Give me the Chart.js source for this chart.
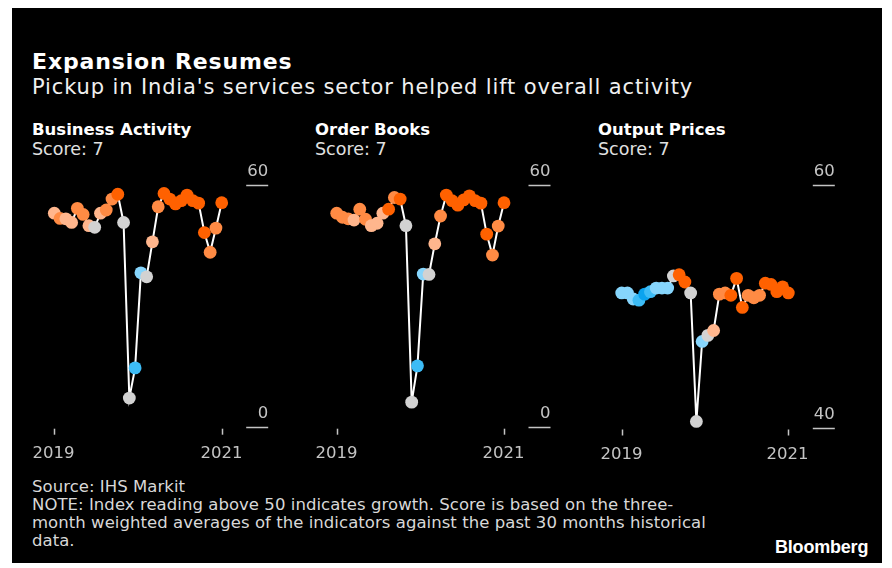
<!DOCTYPE html>
<html>
<head>
<meta charset="utf-8">
<script src="https://cdn.jsdelivr.net/npm/chart.js@4.4.1/dist/chart.umd.min.js"></script>
<style>
  html, body { margin: 0; padding: 0; background: #fff; width: 892px; height: 568px; overflow: hidden; }
  #frame { position: absolute; left: 12px; top: 8px; width: 870px; height: 555px; background: #000; }
  .t { position: absolute; font-family: "DejaVu Sans"; white-space: nowrap; line-height: 1; }
  canvas { position: absolute; }
</style>
</head>
<body>
<div id="frame"></div>

<div class="t" style="left:32px; top:51px; font-size:22px; font-weight:bold; color:#fff; letter-spacing:0.85px;">Expansion Resumes</div>
<div class="t" style="left:32px; top:77px; font-size:21px; color:#f0f0f0; letter-spacing:0.87px;">Pickup in India's services sector helped lift overall activity</div>

<div class="t" style="left:32px; top:122px; font-size:16.5px; font-weight:bold; color:#fff;">Business Activity</div>
<div class="t" style="left:32px; top:141px; font-size:17.5px; color:#e0e0e0;">Score: 7</div>
<div class="t" style="left:315px; top:122px; font-size:16.5px; font-weight:bold; color:#fff;">Order Books</div>
<div class="t" style="left:315px; top:141px; font-size:17.5px; color:#e0e0e0;">Score: 7</div>
<div class="t" style="left:598px; top:122px; font-size:16.5px; font-weight:bold; color:#fff;">Output Prices</div>
<div class="t" style="left:598px; top:141px; font-size:17.5px; color:#e0e0e0;">Score: 7</div>

<div class="t" style="left:32px; top:478px; font-size:16.5px; color:#d8d8d8; line-height:18px; letter-spacing:0.05px;">Source: IHS Markit<br>NOTE: Index reading above 50 indicates growth. Score is based on the three-<br>month weighted averages of the indicators against the past 30 months historical<br>data.</div>
<div class="t" style="left:775px; top:538px; font-size:18px; font-weight:bold; color:#fff; font-family:'Liberation Sans'; letter-spacing:-0.2px;">Bloomberg</div>

<canvas id="c1" width="260" height="310" style="left:30px; top:160px;"></canvas>
<canvas id="c2" width="260" height="310" style="left:312px; top:160px;"></canvas>
<canvas id="c3" width="260" height="310" style="left:597px; top:160px;"></canvas>

<script>
// monthly readings, Mar 2019 - Aug 2021
const months = ['Mar 2019', 'Apr 2019', 'May 2019', 'Jun 2019', 'Jul 2019', 'Aug 2019', 'Sep 2019', 'Oct 2019',
  'Nov 2019', 'Dec 2019', 'Jan 2020', 'Feb 2020', 'Mar 2020', 'Apr 2020', 'May 2020', 'Jun 2020', 'Jul 2020',
  'Aug 2020', 'Sep 2020', 'Oct 2020', 'Nov 2020', 'Dec 2020', 'Jan 2021', 'Feb 2021', 'Mar 2021', 'Apr 2021',
  'May 2021', 'Jun 2021', 'Jul 2021', 'Aug 2021'];

const businessActivity = [53.0, 51.7, 51.6, 50.7, 54.2, 52.7, 49.9, 49.5, 53.0, 53.8, 56.5, 57.7, 50.7, 7.1, 14.6,
  38.2, 37.2, 45.9, 54.6, 57.9, 56.5, 55.3, 56.1, 57.5, 56.1, 55.5, 48.2, 43.3, 49.3, 55.6];
const orderBooks = [53.0, 52.0, 51.6, 51.3, 54.0, 51.5, 49.9, 50.5, 53.0, 54.0, 56.9, 56.5, 49.9, 6.1, 15.1,
  37.9, 37.8, 45.4, 52.3, 57.5, 56.1, 55.0, 56.3, 57.3, 56.1, 55.5, 47.8, 42.6, 49.8, 55.6];
const outputPrices = [51.1, 51.1, 50.6, 50.5, 51.0, 51.2, 51.5, 51.5, 51.5, 52.5, 52.6, 52.0, 51.1, 40.5, 47.1,
  47.6, 48.0, 51.0, 51.1, 50.9, 52.3, 49.9, 50.9, 50.7, 50.9, 51.9, 51.8, 51.2, 51.6, 51.1];

// shade level of each dot: -3 (cold) .. 3 (hot)
const businessShade = [1, 2, 1, 1, 2, 2, 1, 0, 1, 2, 2, 3, 0, 0, -2, -1, 0, 1, 2, 3, 3, 3, 3, 3, 3, 3, 3, 2, 2, 3];
const orderShade = [2, 2, 2, 1, 2, 2, 1, 1, 1, 3, 2, 3, 0, 0, -2, -1, 0, 1, 2, 3, 3, 3, 3, 3, 3, 3, 3, 2, 2, 3];
const pricesShade = [-1, -1, -1, -2, -3, -2, -1, -1, -1, 0, 3, 3, 0, 0, -1, 0, 1, 2, 2, 3, 3, 3, 2, 2, 2, 3, 3, 3, 3, 3];

const xTickMonths = ['Mar 2019', 'Aug 2021'];
const xTickLabels = ['2019', '2021'];
const activityTicks = [0, 60];
const pricesTicks = [40, 60];

const shadeColors = {
  '-3': '#0ba3ee', '-2': '#3dbcf6', '-1': '#86d5fc', '0': '#d2d2d2',
  '1': '#ffb68d', '2': '#ff8b44', '3': '#ff6100'
};

const labelGrey = '#c4c4c4';

// y tick labels sit above a short rule; year ticks hang under the plot
const sideAxes = {
  id: 'sideAxes',
  afterDraw(chart, args, opts) {
    const { ctx, chartArea, scales: { x, y } } = chart;
    ctx.save();
    ctx.strokeStyle = labelGrey;
    ctx.fillStyle = labelGrey;
    ctx.lineWidth = 1.5;
    ctx.font = '16.5px "DejaVu Sans"';
    ctx.textAlign = 'right';
    ctx.textBaseline = 'alphabetic';
    opts.yTicks.forEach(v => {
      const py = Math.round(y.getPixelForValue(v)) + 0.5;
      ctx.beginPath();
      ctx.moveTo(chartArea.right + 24.5, py);
      ctx.lineTo(chartArea.right + 46.5, py);
      ctx.stroke();
      ctx.fillText(String(v), chartArea.right + 46.5, py - 10);
    });
    ctx.textAlign = 'center';
    xTickMonths.forEach((m, i) => {
      const px = Math.round(x.getPixelForValue(months.indexOf(m))) + 0.5;
      ctx.beginPath();
      ctx.moveTo(px, chartArea.bottom + 2);
      ctx.lineTo(px, chartArea.bottom + 8);
      ctx.stroke();
      ctx.fillText(xTickLabels[i], px - 1, chartArea.bottom + 31);
    });
    ctx.restore();
  }
};

function makePanel(id, values, shades, yMin, yMax, yTicks, pad) {
  return new Chart(document.getElementById(id), {
    type: 'line',
    data: {
      labels: months,
      datasets: [{
        data: values,
        borderColor: '#ffffff',
        borderWidth: 2,
        tension: 0,
        pointRadius: 6.4,
        pointHoverRadius: 6.4,
        pointBorderWidth: 0,
        pointBackgroundColor: shades.map(s => shadeColors[s]),
        clip: false
      }]
    },
    options: {
      responsive: false,
      animation: false,
      events: [],
      layout: { padding: pad },
      plugins: { legend: { display: false }, tooltip: { enabled: false }, sideAxes: { yTicks } },
      scales: {
        x: { type: 'category', display: false, offset: false },
        y: { type: 'linear', display: false, min: yMin, max: yMax }
      }
    },
    plugins: [sideAxes]
  });
}

makePanel('c1', businessActivity, businessShade, 0, 60, activityTicks,
  { left: 24.3, right: 68.3, top: 25, bottom: 43.3 });
makePanel('c2', orderBooks, orderShade, 0, 60, activityTicks,
  { left: 24.7, right: 68, top: 25, bottom: 43.3 });
makePanel('c3', outputPrices, pricesShade, 40, 60, pricesTicks,
  { left: 24.7, right: 68.7, top: 25, bottom: 42.5 });
</script>
</body>
</html>
